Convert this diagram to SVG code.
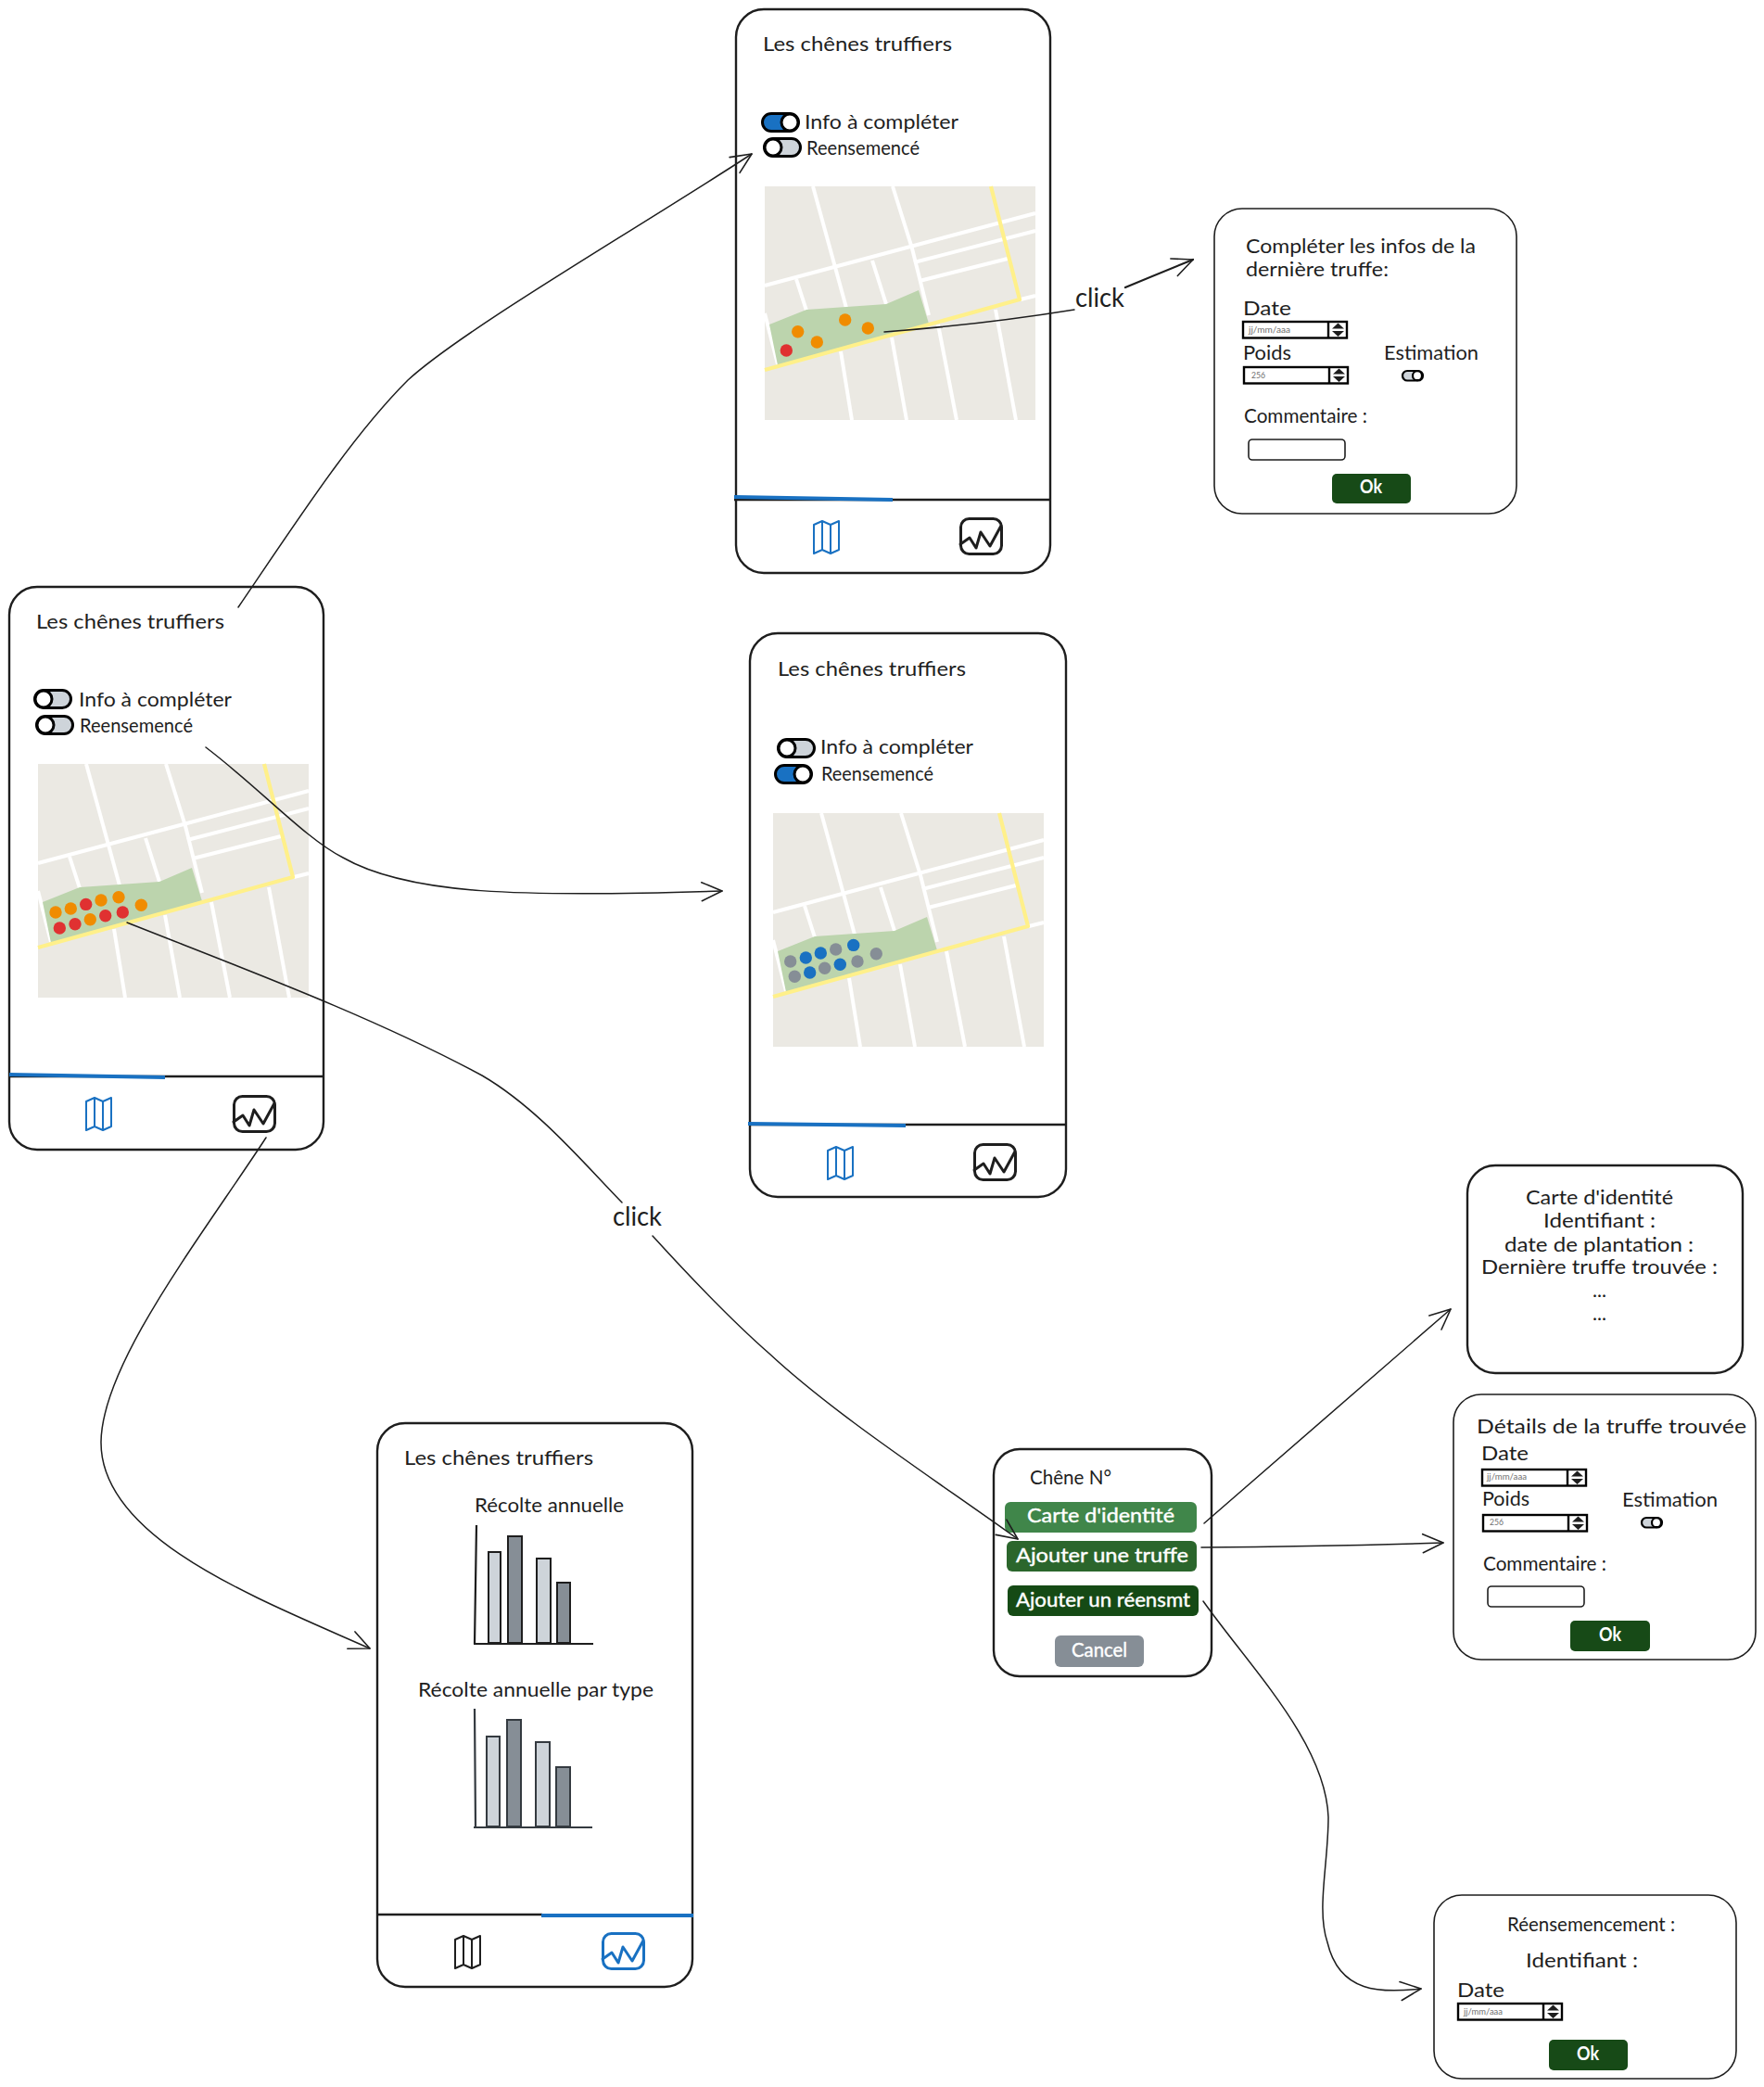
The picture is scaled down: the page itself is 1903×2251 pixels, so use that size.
<svg xmlns="http://www.w3.org/2000/svg" width="1903" height="2251" viewBox="0 0 1903 2251">
<style>
text{font-family:"Lato","Noto Sans","Liberation Sans",sans-serif;fill:#1e1e1e;font-size:21px}
.frame{fill:#fff;stroke:#1e1e1e;stroke-width:2.4}
.thin{fill:#fff;stroke:#1e1e1e;stroke-width:1.6}
.tab{stroke:#1e1e1e;stroke-width:2.6;fill:none}
.tabon{stroke:#1971c2;stroke-width:4;fill:none}
.road{stroke:#fff;stroke-width:4;fill:none}
.yel{stroke:#fff08a;stroke-width:4.2;fill:none;stroke-linejoin:round}
.o{fill:#f08c00}.r{fill:#e03131}.b{fill:#1971c2}.g{fill:#868e96}
.mini{font-size:9px;fill:#6f6f6f}
.btn{fill:#fff;stroke:#fff;stroke-width:.4}
.ok{fill:#fff;font-weight:700;font-size:20px}
.click{font-size:28px}
.bl{fill:#ced4da;stroke:#1e1e1e;stroke-width:2}
.bd{fill:#868e96;stroke:#1e1e1e;stroke-width:2}
.bl2{fill:#ced4da;stroke:#343a40;stroke-width:2}
.bd2{fill:#868e96;stroke:#343a40;stroke-width:2}
.ax{stroke:#1e1e1e;stroke-width:2.2;fill:none}
.ax2{stroke:#343a40;stroke-width:2.2;fill:none}
.cn{fill:none;stroke:#1e1e1e;stroke-width:1.5;stroke-linecap:round}
.ic{fill:none;stroke-width:2;stroke-linejoin:round}
</style>
<defs>
<marker id="arr" markerUnits="userSpaceOnUse" markerWidth="36" markerHeight="36" refX="28" refY="18" orient="auto">
<path d="M6,8 L28,18 L6,28" fill="none" stroke="#1e1e1e" stroke-width="1.6" stroke-linecap="round" stroke-linejoin="round"/>
</marker>
<g id="map">
<rect width="292" height="252" fill="#ebe9e3"/>
<g class="road">
<path d="M52,0L88,131"/><path d="M82,178L94,252"/><path d="M138,0L159,67L177,139"/><path d="M137,163L153,252"/><path d="M187,149L207,252"/><path d="M249,133L271,252"/>
<path d="M0,107L157,65L292,29"/><path d="M161,82L292,48"/><path d="M167,102L262,78"/><path d="M34,100L45,134"/><path d="M116,80L131,127"/><path d="M276,122L292,118"/><path d="M0,137L14,192"/>
</g>
<path d="M5,149L45,133L131,127L166,112L177,148L14,193Z" fill="#bcd4ad"/>
<path class="yel" d="M244,0L275,122L0,198"/>
</g>
<g id="togoff"><rect x="1.500" y="1.500" width="39" height="19" rx="9.500" fill="#ced4da" stroke="#000" stroke-width="3"/><circle cx="11" cy="11" r="9" fill="#fff" stroke="#000" stroke-width="3"/></g>
<g id="togon"><rect x="1.500" y="1.500" width="39" height="19" rx="9.500" fill="#1971c2" stroke="#000" stroke-width="3"/><circle cx="31" cy="11" r="9" fill="#fff" stroke="#000" stroke-width="3"/></g>
<g id="togs"><rect x="1" y="1" width="22" height="10.500" rx="5.200" fill="#ced4da" stroke="#000" stroke-width="2.200"/><circle cx="17" cy="6.200" r="5" fill="#fff" stroke="#000" stroke-width="2.200"/></g>
<g id="spin"><rect x="1" y="1" width="112" height="17.500" fill="#fff" stroke="#000" stroke-width="2.400"/><path d="M93,1V18.500" stroke="#000" stroke-width="2.400"/><path d="M97,8.500L103.500,2.500L110,8.500ZM97,11L103.500,17L110,11Z" fill="#1e1e1e"/></g>
<g id="mapicon"><path class="ic" d="M1,5L10,1L19,5L28,1V32L19,36L10,32L1,36ZM10,1V32M19,5V36"/></g>
<g id="charticon"><rect x="1.500" y="1.500" width="44" height="38" rx="9" fill="none" stroke-width="3"/><path d="M1,29L11,22L18,33L23,16L33,31L45,9" fill="none" stroke-width="3" stroke-linejoin="round" stroke-linecap="round"/></g>
</defs>
<rect width="1903" height="2251" fill="#fff"/>

<g id="phone-principal">
<rect class="frame" x="10" y="633" width="339" height="607" rx="30"/>
<text x="39" y="678" textLength="203" lengthAdjust="spacingAndGlyphs">Les chênes truffiers</text>
<use href="#togoff" x="36" y="743"/>
<text x="85" y="762" textLength="165" lengthAdjust="spacingAndGlyphs">Info à compléter</text>
<use href="#togoff" x="38" y="771"/>
<text x="86" y="790" textLength="122" lengthAdjust="spacingAndGlyphs">Reensemencé</text>
<g transform="translate(41,824)"><use href="#map"/>
<g class="o"><circle cx="19" cy="160" r="6.700"/><circle cx="35.300" cy="156" r="6.700"/><circle cx="68" cy="147" r="6.700"/><circle cx="87" cy="143.700" r="6.700"/><circle cx="111.300" cy="152.200" r="6.700"/><circle cx="56.300" cy="167.800" r="6.700"/></g>
<g class="r"><circle cx="51.700" cy="151.400" r="6.700"/><circle cx="23.300" cy="177" r="6.700"/><circle cx="40" cy="172.700" r="6.700"/><circle cx="72.700" cy="163.700" r="6.700"/><circle cx="91.300" cy="160" r="6.700"/></g>
</g>
<path class="tab" d="M10,1161H349"/><path class="tabon" d="M10,1159L178,1162"/>
<use href="#mapicon" x="92" y="1183" stroke="#1971c2"/>
<use href="#charticon" x="251" y="1181" stroke="#1e1e1e"/>
</g>

<g id="phone-info">
<rect class="frame" x="794" y="10" width="339" height="608" rx="30"/>
<text x="823" y="55" textLength="204" lengthAdjust="spacingAndGlyphs">Les chênes truffiers</text>
<use href="#togon" x="821" y="121"/>
<text x="868" y="139" textLength="166" lengthAdjust="spacingAndGlyphs">Info à compléter</text>
<use href="#togoff" x="823" y="148"/>
<text x="870" y="167" textLength="122" lengthAdjust="spacingAndGlyphs">Reensemencé</text>
<g transform="translate(825,201)"><use href="#map"/>
<g class="o"><circle cx="35.700" cy="156.700" r="6.700"/><circle cx="56.300" cy="168" r="6.700"/><circle cx="86.700" cy="144" r="6.700"/><circle cx="111.300" cy="153" r="6.700"/></g>
<circle class="r" cx="23.300" cy="177" r="6.700"/>
</g>
<path class="tab" d="M792,539H1133"/><path class="tabon" d="M792,536L963,539"/>
<use href="#mapicon" x="877" y="561" stroke="#1971c2"/>
<use href="#charticon" x="1035" y="558" stroke="#1e1e1e"/>
</g>

<g id="phone-reensemence">
<rect class="frame" x="809" y="683" width="341" height="608" rx="30"/>
<text x="839" y="729" textLength="203" lengthAdjust="spacingAndGlyphs">Les chênes truffiers</text>
<use href="#togoff" x="838" y="796"/>
<text x="885" y="813" textLength="165" lengthAdjust="spacingAndGlyphs">Info à compléter</text>
<use href="#togon" x="835" y="824"/>
<text x="886" y="842" textLength="121" lengthAdjust="spacingAndGlyphs">Reensemencé</text>
<g transform="translate(834,877)"><use href="#map"/>
<g class="g"><circle cx="18.700" cy="160" r="6.700"/><circle cx="23.300" cy="176.300" r="6.700"/><circle cx="55.700" cy="167.300" r="6.700"/><circle cx="67.700" cy="147" r="6.700"/><circle cx="91" cy="160" r="6.700"/><circle cx="111.300" cy="151.800" r="6.700"/></g>
<g class="b"><circle cx="35.300" cy="156" r="6.700"/><circle cx="51.300" cy="151" r="6.700"/><circle cx="39.700" cy="172" r="6.700"/><circle cx="72.300" cy="163.300" r="6.700"/><circle cx="86.700" cy="142.400" r="6.700"/></g>
</g>
<path class="tab" d="M809,1213H1150"/><path class="tabon" d="M807,1212L977,1214"/>
<use href="#mapicon" x="892" y="1236" stroke="#1971c2"/>
<use href="#charticon" x="1050" y="1233" stroke="#1e1e1e"/>
</g>

<g id="phone-recolte">
<rect class="frame" x="407" y="1535" width="340" height="608" rx="30"/>
<text x="436" y="1580" textLength="204" lengthAdjust="spacingAndGlyphs">Les chênes truffiers</text>
<text x="512" y="1631" textLength="161" lengthAdjust="spacingAndGlyphs">Récolte annuelle</text>
<rect class="bl" x="527" y="1674" width="13" height="98"/><rect class="bd" x="548" y="1657" width="15" height="115"/><rect class="bl" x="579" y="1681" width="15" height="91"/><rect class="bd" x="601" y="1707" width="14" height="65"/>
<path class="ax" d="M514,1645L512,1773M511,1773H640"/>
<text x="451" y="1830" textLength="254" lengthAdjust="spacingAndGlyphs">Récolte annuelle par type</text>
<rect class="bl2" x="525" y="1873" width="14" height="97"/><rect class="bd2" x="547" y="1855" width="15" height="115"/><rect class="bl2" x="578" y="1879" width="15" height="91"/><rect class="bd2" x="600" y="1906" width="15" height="64"/>
<path class="ax2" d="M512,1843L513,1971M511,1971H639"/>
<path class="tab" d="M407,2065H585"/><path class="tabon" d="M584,2066H748"/>
<use href="#mapicon" x="490" y="2087" stroke="#1e1e1e"/>
<use href="#charticon" x="649" y="2084" stroke="#1971c2"/>
</g>

<g id="dialog-completer">
<rect class="thin" x="1310" y="225" width="326" height="329" rx="30"/>
<text x="1344" y="273" textLength="248" lengthAdjust="spacingAndGlyphs">Compléter les infos de la</text>
<text x="1344" y="298" textLength="154" lengthAdjust="spacingAndGlyphs">dernière truffe:</text>
<text x="1341" y="340" textLength="52" lengthAdjust="spacingAndGlyphs">Date</text>
<use href="#spin" x="1340" y="346"/>
<text class="mini" x="1347" y="359" textLength="45" lengthAdjust="spacingAndGlyphs">jj/mm/aaa</text>
<text x="1341" y="388" textLength="52" lengthAdjust="spacingAndGlyphs">Poids</text>
<use href="#spin" x="1341" y="395"/>
<text class="mini" x="1350" y="408" textLength="15" lengthAdjust="spacingAndGlyphs">256</text>
<text x="1493" y="388" textLength="102" lengthAdjust="spacingAndGlyphs">Estimation</text>
<use href="#togs" x="1512" y="399"/>
<text x="1342" y="456" textLength="133" lengthAdjust="spacingAndGlyphs">Commentaire :</text>
<rect class="thin" x="1347" y="474" width="104" height="22" rx="4"/>
<rect x="1437" y="511" width="85" height="32" rx="5" fill="#174a17"/>
<text class="ok" x="1467" y="532" textLength="24" lengthAdjust="spacingAndGlyphs">Ok</text>
</g>

<g id="menu-chene">
<rect class="frame" x="1072" y="1563" width="235" height="245" rx="28"/>
<text x="1111" y="1601" textLength="88" lengthAdjust="spacingAndGlyphs">Chêne N°</text>
<rect x="1084" y="1620" width="207" height="33" rx="6" fill="#40864a"/>
<text class="btn" x="1108" y="1642" textLength="159" lengthAdjust="spacingAndGlyphs">Carte d'identité</text>
<rect x="1086" y="1662" width="205" height="33" rx="6" fill="#2b662c"/>
<text class="btn" x="1096" y="1685" textLength="186" lengthAdjust="spacingAndGlyphs">Ajouter une truffe</text>
<rect x="1087" y="1710" width="206" height="33" rx="6" fill="#154a15"/>
<text class="btn" x="1096" y="1733" textLength="188" lengthAdjust="spacingAndGlyphs">Ajouter un réensmt</text>
<rect x="1138" y="1764" width="96" height="34" rx="6" fill="#868e96"/>
<text class="btn" x="1156" y="1787" textLength="60" lengthAdjust="spacingAndGlyphs">Cancel</text>
</g>

<g id="dialog-carte">
<rect class="frame" x="1583" y="1257" width="297" height="224" rx="30"/>
<text x="1646" y="1299" textLength="159" lengthAdjust="spacingAndGlyphs">Carte d'identité</text>
<text x="1665" y="1324" textLength="121" lengthAdjust="spacingAndGlyphs">Identifiant :</text>
<text x="1623" y="1350" textLength="204" lengthAdjust="spacingAndGlyphs">date de plantation :</text>
<text x="1598" y="1374" textLength="255" lengthAdjust="spacingAndGlyphs">Dernière truffe trouvée :</text>
<text x="1718" y="1399" textLength="15" lengthAdjust="spacingAndGlyphs">...</text>
<text x="1718" y="1424" textLength="15" lengthAdjust="spacingAndGlyphs">...</text>
</g>

<g id="dialog-details">
<rect class="thin" x="1568" y="1504" width="326" height="286" rx="30"/>
<text x="1593" y="1546" textLength="291" lengthAdjust="spacingAndGlyphs">Détails de la truffe trouvée</text>
<text x="1598" y="1575" textLength="51" lengthAdjust="spacingAndGlyphs">Date</text>
<use href="#spin" x="1598" y="1584"/>
<text class="mini" x="1604" y="1596" textLength="43" lengthAdjust="spacingAndGlyphs">jj/mm/aaa</text>
<text x="1599" y="1624" textLength="51" lengthAdjust="spacingAndGlyphs">Poids</text>
<use href="#spin" x="1599" y="1633"/>
<text class="mini" x="1607" y="1645" textLength="15" lengthAdjust="spacingAndGlyphs">256</text>
<text x="1750" y="1625" textLength="103" lengthAdjust="spacingAndGlyphs">Estimation</text>
<use href="#togs" x="1770" y="1636"/>
<text x="1600" y="1694" textLength="133" lengthAdjust="spacingAndGlyphs">Commentaire :</text>
<rect class="thin" x="1605" y="1711" width="104" height="22" rx="4"/>
<rect x="1694" y="1748" width="86" height="33" rx="5" fill="#174a17"/>
<text class="ok" x="1725" y="1770" textLength="24" lengthAdjust="spacingAndGlyphs">Ok</text>
</g>

<g id="dialog-reensemencement">
<rect class="thin" x="1547" y="2044" width="326" height="198" rx="30"/>
<text x="1626" y="2083" textLength="181" lengthAdjust="spacingAndGlyphs">Réensemencement :</text>
<text x="1646" y="2122" textLength="121" lengthAdjust="spacingAndGlyphs">Identifiant :</text>
<text x="1572" y="2154" textLength="51" lengthAdjust="spacingAndGlyphs">Date</text>
<use href="#spin" x="1572" y="2160"/>
<text class="mini" x="1579" y="2173" textLength="42" lengthAdjust="spacingAndGlyphs">jj/mm/aaa</text>
<rect x="1671" y="2200" width="85" height="33" rx="5" fill="#174a17"/>
<text class="ok" x="1701" y="2222" textLength="24" lengthAdjust="spacingAndGlyphs">Ok</text>
</g>

<g id="connectors">
<path class="cn" marker-end="url(#arr)" d="M257,655C325,555 380,470 440,410C500,355 690,245 811,166"/>
<path class="cn" marker-end="url(#arr)" d="M222,806C280,850 330,905 370,925C440,965 560,968 779,961"/>
<path class="cn" d="M137,995C250,1040 400,1095 520,1160C580,1195 630,1255 671,1297"/>
<path class="cn" marker-end="url(#arr)" d="M704,1333C745,1378 790,1425 830,1460C900,1525 1000,1590 1098,1660"/>
<text class="click" x="661" y="1322" textLength="53" lengthAdjust="spacingAndGlyphs">click</text>
<path class="cn" d="M954,358Q1060,350 1159,334"/>
<path class="cn" style="stroke-width:2.200" marker-end="url(#arr)" d="M1214,310Q1250,295 1287,280"/>
<text class="click" x="1160" y="331" textLength="53" lengthAdjust="spacingAndGlyphs">click</text>
<path class="cn" marker-end="url(#arr)" d="M287,1227C220,1330 110,1470 109,1555C108,1660 280,1725 399,1778"/>
<path class="cn" marker-end="url(#arr)" d="M1299,1643Q1430,1530 1565,1412"/>
<path class="cn" marker-end="url(#arr)" d="M1296,1669Q1430,1668 1557,1664"/>
<path class="cn" marker-end="url(#arr)" d="M1298,1727C1350,1800 1430,1880 1433,1960C1433,2010 1420,2060 1432,2095C1445,2150 1490,2150 1533,2145"/>
</g>
</svg>
